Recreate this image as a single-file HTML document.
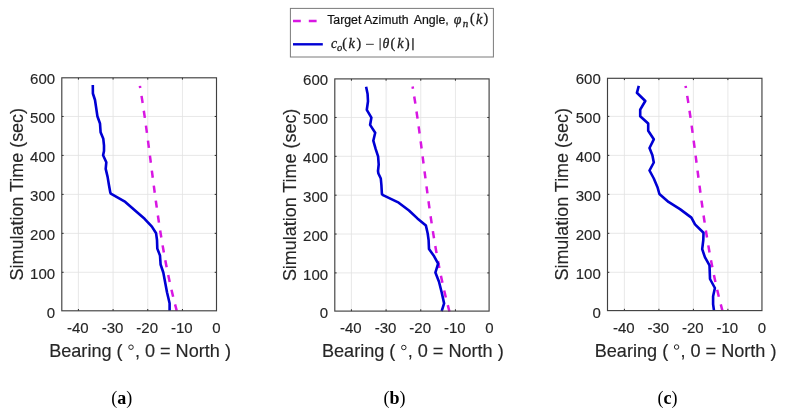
<!DOCTYPE html>
<html><head><meta charset="utf-8"><style>
html,body{margin:0;padding:0;background:#fff;}
body{width:785px;height:414px;overflow:hidden;}
svg{display:block;filter:blur(0.3px);}
.tk{font-family:"Liberation Sans",sans-serif;font-size:15px;fill:#262626;stroke:#262626;stroke-width:0.15px;}
.lb{font-family:"Liberation Sans",sans-serif;font-size:18.1px;fill:#262626;stroke:#262626;stroke-width:0.15px;}
.lg{font-family:"Liberation Sans",sans-serif;font-size:12.3px;fill:#111;stroke:#111;stroke-width:0.2px;}
.mi{font-family:"Liberation Serif",serif;font-style:italic;font-size:13px;fill:#1a1a1a;}
.mr{font-family:"Liberation Serif",serif;font-size:13px;fill:#1a1a1a;}
.cap{font-family:"Liberation Serif",serif;font-size:18px;fill:#000;}
</style></head><body>
<svg width="785" height="414" viewBox="0 0 785 414">
<rect width="785" height="414" fill="#fff"/>
<g stroke="#e2e2e2" stroke-width="0.8"><line x1="78.41" y1="77.80" x2="78.41" y2="310.80"/><line x1="113.08" y1="77.80" x2="113.08" y2="310.80"/><line x1="147.75" y1="77.80" x2="147.75" y2="310.80"/><line x1="182.43" y1="77.80" x2="182.43" y2="310.80"/><line x1="61.80" y1="272.31" x2="216.50" y2="272.31"/><line x1="61.80" y1="233.35" x2="216.50" y2="233.35"/><line x1="61.80" y1="194.38" x2="216.50" y2="194.38"/><line x1="61.80" y1="155.42" x2="216.50" y2="155.42"/><line x1="61.80" y1="116.46" x2="216.50" y2="116.46"/></g>
<polyline points="139.89,85.86 141.17,93.62 142.40,101.37 143.57,109.13 144.70,116.89 145.80,124.64 146.86,132.40 147.90,140.15 148.91,147.91 149.92,155.67 150.92,163.42 151.91,171.18 152.92,178.94 153.93,186.69 154.96,194.45 156.02,202.21 157.10,209.96 158.22,217.72 159.39,225.48 160.60,233.23 161.87,240.99 163.19,248.75 164.59,256.50 166.06,264.26 167.60,272.02 169.23,279.77 170.96,287.53 172.78,295.29 174.70,303.04 176.74,310.80" fill="none" stroke="#d816e2" stroke-width="2.5" stroke-dasharray="7.2 7.9" stroke-dashoffset="5.0"/>
<polyline points="92.80,85.10 92.90,93.50 95.00,100.00 95.90,106.00 97.40,116.20 100.00,123.50 100.60,132.20 103.30,138.80 104.00,145.50 104.00,151.00 103.10,155.20 106.30,162.30 105.70,168.90 107.60,176.90 108.90,184.80 110.30,192.50 110.80,193.60 125.30,201.90 136.20,211.50 144.60,218.80 151.90,226.60 156.10,233.30 157.00,240.00 157.30,248.60 160.00,255.50 160.60,264.50 163.30,272.50 167.00,292.30 169.60,303.30 169.60,310.80" fill="none" stroke="#0000d4" stroke-width="2.6" stroke-linejoin="round"/>
<g stroke="#262626" stroke-width="1"><line x1="78.41" y1="310.80" x2="78.41" y2="309.00"/><line x1="78.41" y1="77.80" x2="78.41" y2="79.60"/><line x1="113.08" y1="310.80" x2="113.08" y2="309.00"/><line x1="113.08" y1="77.80" x2="113.08" y2="79.60"/><line x1="147.75" y1="310.80" x2="147.75" y2="309.00"/><line x1="147.75" y1="77.80" x2="147.75" y2="79.60"/><line x1="182.43" y1="310.80" x2="182.43" y2="309.00"/><line x1="182.43" y1="77.80" x2="182.43" y2="79.60"/><line x1="61.80" y1="272.31" x2="63.60" y2="272.31"/><line x1="216.50" y1="272.31" x2="214.70" y2="272.31"/><line x1="61.80" y1="233.35" x2="63.60" y2="233.35"/><line x1="216.50" y1="233.35" x2="214.70" y2="233.35"/><line x1="61.80" y1="194.38" x2="63.60" y2="194.38"/><line x1="216.50" y1="194.38" x2="214.70" y2="194.38"/><line x1="61.80" y1="155.42" x2="63.60" y2="155.42"/><line x1="216.50" y1="155.42" x2="214.70" y2="155.42"/><line x1="61.80" y1="116.46" x2="63.60" y2="116.46"/><line x1="216.50" y1="116.46" x2="214.70" y2="116.46"/></g>
<rect x="61.80" y="77.80" width="154.70" height="233.00" fill="none" stroke="#404040" stroke-width="1.15"/>
<g class="tk"><text transform="translate(55.10,317.87)" text-anchor="end">0</text><text transform="translate(55.10,278.91)" text-anchor="end">100</text><text transform="translate(55.10,239.95)" text-anchor="end">200</text><text transform="translate(55.10,200.98)" text-anchor="end">300</text><text transform="translate(55.10,162.02)" text-anchor="end">400</text><text transform="translate(55.10,123.06)" text-anchor="end">500</text><text transform="translate(55.10,84.10)" text-anchor="end">600</text><text transform="translate(77.81,332.97)" text-anchor="middle">-40</text><text transform="translate(112.48,332.97)" text-anchor="middle">-30</text><text transform="translate(147.15,332.97)" text-anchor="middle">-20</text><text transform="translate(181.83,332.97)" text-anchor="middle">-10</text><text transform="translate(216.50,332.97)" text-anchor="middle">0</text></g>
<text class="lb" x="140.05" y="357.00" text-anchor="middle">Bearing ( <tspan style="fill:none;stroke:none">°</tspan>, 0 = North )</text>
<circle cx="131.00" cy="347.20" r="2.25" fill="none" stroke="#262626" stroke-width="1.0"/>
<text class="lb" transform="translate(22.60,194.20) rotate(-90)" text-anchor="middle" style="font-size:17.95px">Simulation Time (sec)</text>
<g stroke="#e2e2e2" stroke-width="0.8"><line x1="351.41" y1="78.90" x2="351.41" y2="311.10"/><line x1="386.08" y1="78.90" x2="386.08" y2="311.10"/><line x1="420.75" y1="78.90" x2="420.75" y2="311.10"/><line x1="455.43" y1="78.90" x2="455.43" y2="311.10"/><line x1="334.80" y1="272.90" x2="489.10" y2="272.90"/><line x1="334.80" y1="234.04" x2="489.10" y2="234.04"/><line x1="334.80" y1="195.18" x2="489.10" y2="195.18"/><line x1="334.80" y1="156.32" x2="489.10" y2="156.32"/><line x1="334.80" y1="117.46" x2="489.10" y2="117.46"/></g>
<polyline points="412.59,86.56 413.87,94.32 415.10,102.07 416.27,109.83 417.40,117.59 418.50,125.34 419.56,133.10 420.60,140.85 421.61,148.61 422.62,156.37 423.62,164.12 424.61,171.88 425.62,179.64 426.63,187.39 427.66,195.15 428.72,202.91 429.80,210.66 430.92,218.42 432.09,226.18 433.30,233.93 434.57,241.69 435.89,249.45 437.29,257.20 438.76,264.96 440.30,272.72 441.93,280.47 443.66,288.23 445.48,295.99 447.40,303.74 449.44,311.50" fill="none" stroke="#d816e2" stroke-width="2.5" stroke-dasharray="7.2 7.9" stroke-dashoffset="5.0"/>
<polyline points="366.10,86.80 367.60,94.10 368.00,101.30 366.80,109.80 371.40,117.60 370.10,124.90 375.20,132.70 373.30,140.70 375.70,149.20 378.10,156.40 378.70,164.50 378.00,171.00 378.40,173.50 380.80,178.50 381.40,185.00 381.90,194.00 383.00,195.20 398.70,202.70 409.00,210.50 417.40,218.40 425.90,225.60 427.70,233.50 428.60,240.00 429.00,249.10 433.60,255.40 438.10,263.60 435.40,272.60 439.00,281.70 441.70,292.50 444.10,303.40 441.70,311.10" fill="none" stroke="#0000d4" stroke-width="2.6" stroke-linejoin="round"/>
<g stroke="#262626" stroke-width="1"><line x1="351.41" y1="311.10" x2="351.41" y2="309.30"/><line x1="351.41" y1="78.90" x2="351.41" y2="80.70"/><line x1="386.08" y1="311.10" x2="386.08" y2="309.30"/><line x1="386.08" y1="78.90" x2="386.08" y2="80.70"/><line x1="420.75" y1="311.10" x2="420.75" y2="309.30"/><line x1="420.75" y1="78.90" x2="420.75" y2="80.70"/><line x1="455.43" y1="311.10" x2="455.43" y2="309.30"/><line x1="455.43" y1="78.90" x2="455.43" y2="80.70"/><line x1="334.80" y1="272.90" x2="336.60" y2="272.90"/><line x1="489.10" y1="272.90" x2="487.30" y2="272.90"/><line x1="334.80" y1="234.04" x2="336.60" y2="234.04"/><line x1="489.10" y1="234.04" x2="487.30" y2="234.04"/><line x1="334.80" y1="195.18" x2="336.60" y2="195.18"/><line x1="489.10" y1="195.18" x2="487.30" y2="195.18"/><line x1="334.80" y1="156.32" x2="336.60" y2="156.32"/><line x1="489.10" y1="156.32" x2="487.30" y2="156.32"/><line x1="334.80" y1="117.46" x2="336.60" y2="117.46"/><line x1="489.10" y1="117.46" x2="487.30" y2="117.46"/></g>
<rect x="334.80" y="78.90" width="154.30" height="232.20" fill="none" stroke="#404040" stroke-width="1.15"/>
<g class="tk"><text transform="translate(328.10,318.36)" text-anchor="end">0</text><text transform="translate(328.10,279.50)" text-anchor="end">100</text><text transform="translate(328.10,240.64)" text-anchor="end">200</text><text transform="translate(328.10,201.78)" text-anchor="end">300</text><text transform="translate(328.10,162.92)" text-anchor="end">400</text><text transform="translate(328.10,124.06)" text-anchor="end">500</text><text transform="translate(328.10,85.20)" text-anchor="end">600</text><text transform="translate(350.81,333.46)" text-anchor="middle">-40</text><text transform="translate(385.48,333.46)" text-anchor="middle">-30</text><text transform="translate(420.15,333.46)" text-anchor="middle">-20</text><text transform="translate(454.83,333.46)" text-anchor="middle">-10</text><text transform="translate(489.50,333.46)" text-anchor="middle">0</text></g>
<text class="lb" x="412.85" y="357.30" text-anchor="middle">Bearing ( <tspan style="fill:none;stroke:none">°</tspan>, 0 = North )</text>
<circle cx="403.80" cy="347.50" r="2.25" fill="none" stroke="#262626" stroke-width="1.0"/>
<text class="lb" transform="translate(295.60,194.90) rotate(-90)" text-anchor="middle" style="font-size:17.95px">Simulation Time (sec)</text>
<g stroke="#e2e2e2" stroke-width="0.8"><line x1="624.40" y1="78.30" x2="624.40" y2="310.60"/><line x1="658.90" y1="78.30" x2="658.90" y2="310.60"/><line x1="693.40" y1="78.30" x2="693.40" y2="310.60"/><line x1="727.90" y1="78.30" x2="727.90" y2="310.60"/><line x1="607.50" y1="272.30" x2="761.95" y2="272.30"/><line x1="607.50" y1="233.32" x2="761.95" y2="233.32"/><line x1="607.50" y1="194.34" x2="761.95" y2="194.34"/><line x1="607.50" y1="155.36" x2="761.95" y2="155.36"/><line x1="607.50" y1="116.38" x2="761.95" y2="116.38"/></g>
<polyline points="685.59,85.86 686.87,93.62 688.10,101.37 689.27,109.13 690.40,116.89 691.50,124.64 692.56,132.40 693.60,140.15 694.61,147.91 695.62,155.67 696.62,163.42 697.61,171.18 698.62,178.94 699.63,186.69 700.66,194.45 701.72,202.21 702.80,209.96 703.92,217.72 705.09,225.48 706.30,233.23 707.57,240.99 708.89,248.75 710.29,256.50 711.76,264.26 713.30,272.02 714.93,279.77 716.66,287.53 718.48,295.29 720.40,303.04 722.44,310.80" fill="none" stroke="#d816e2" stroke-width="2.5" stroke-dasharray="7.2 7.9" stroke-dashoffset="5.0"/>
<polyline points="638.80,85.80 636.90,92.80 645.30,101.00 640.20,109.70 640.20,116.20 648.20,123.50 648.20,130.70 653.80,139.30 649.50,148.00 652.40,155.30 653.80,162.50 649.50,170.50 653.80,178.50 657.50,187.20 659.40,194.00 668.50,201.90 680.00,209.10 691.40,217.60 695.00,224.40 703.50,232.70 703.30,240.00 702.20,249.10 704.90,257.20 709.50,265.40 710.00,279.00 714.90,288.00 713.10,296.20 713.10,304.30 714.00,310.60" fill="none" stroke="#0000d4" stroke-width="2.6" stroke-linejoin="round"/>
<g stroke="#262626" stroke-width="1"><line x1="624.40" y1="310.60" x2="624.40" y2="308.80"/><line x1="624.40" y1="78.30" x2="624.40" y2="80.10"/><line x1="658.90" y1="310.60" x2="658.90" y2="308.80"/><line x1="658.90" y1="78.30" x2="658.90" y2="80.10"/><line x1="693.40" y1="310.60" x2="693.40" y2="308.80"/><line x1="693.40" y1="78.30" x2="693.40" y2="80.10"/><line x1="727.90" y1="310.60" x2="727.90" y2="308.80"/><line x1="727.90" y1="78.30" x2="727.90" y2="80.10"/><line x1="607.50" y1="272.30" x2="609.30" y2="272.30"/><line x1="761.95" y1="272.30" x2="760.15" y2="272.30"/><line x1="607.50" y1="233.32" x2="609.30" y2="233.32"/><line x1="761.95" y1="233.32" x2="760.15" y2="233.32"/><line x1="607.50" y1="194.34" x2="609.30" y2="194.34"/><line x1="761.95" y1="194.34" x2="760.15" y2="194.34"/><line x1="607.50" y1="155.36" x2="609.30" y2="155.36"/><line x1="761.95" y1="155.36" x2="760.15" y2="155.36"/><line x1="607.50" y1="116.38" x2="609.30" y2="116.38"/><line x1="761.95" y1="116.38" x2="760.15" y2="116.38"/></g>
<rect x="607.50" y="78.30" width="154.45" height="232.30" fill="none" stroke="#404040" stroke-width="1.15"/>
<g class="tk"><text transform="translate(600.80,317.88)" text-anchor="end">0</text><text transform="translate(600.80,278.90)" text-anchor="end">100</text><text transform="translate(600.80,239.92)" text-anchor="end">200</text><text transform="translate(600.80,200.94)" text-anchor="end">300</text><text transform="translate(600.80,161.96)" text-anchor="end">400</text><text transform="translate(600.80,122.98)" text-anchor="end">500</text><text transform="translate(600.80,84.00)" text-anchor="end">600</text><text transform="translate(623.80,332.97)" text-anchor="middle">-40</text><text transform="translate(658.30,332.97)" text-anchor="middle">-30</text><text transform="translate(692.80,332.97)" text-anchor="middle">-20</text><text transform="translate(727.30,332.97)" text-anchor="middle">-10</text><text transform="translate(761.80,332.97)" text-anchor="middle">0</text></g>
<text class="lb" x="685.62" y="356.80" text-anchor="middle">Bearing ( <tspan style="fill:none;stroke:none">°</tspan>, 0 = North )</text>
<circle cx="676.58" cy="347.00" r="2.25" fill="none" stroke="#262626" stroke-width="1.0"/>
<text class="lb" transform="translate(568.30,194.35) rotate(-90)" text-anchor="middle" style="font-size:17.95px">Simulation Time (sec)</text>
<text class="cap" x="121.8" y="403.5" text-anchor="middle">(<tspan font-weight="bold">a</tspan>)</text>
<text class="cap" x="394.4" y="403.5" text-anchor="middle">(<tspan font-weight="bold">b</tspan>)</text>
<text class="cap" x="667.4" y="403.5" text-anchor="middle">(<tspan font-weight="bold">c</tspan>)</text>
<rect x="290.4" y="8.4" width="203" height="48.6" fill="#fff" stroke="#7a7a7a" stroke-width="1"/>
<line x1="293" y1="21.1" x2="322.8" y2="21.1" stroke="#d816e2" stroke-width="2.5" stroke-dasharray="7.8 8"/>
<line x1="293" y1="44.3" x2="322.8" y2="44.3" stroke="#0000d4" stroke-width="2.4"/>
<text class="lg" x="327.2" y="24">Target Azimuth</text>
<text class="lg" x="413.8" y="24">Angle,</text>
<text class="mi" x="453.70" y="23.5" style="font-size:13.8px" stroke="#1a1a1a" stroke-width="0.3">φ</text>
<text class="mi" x="462.80" y="26.6" style="font-size:11px" stroke="#1a1a1a" stroke-width="0.3">n</text>
<text class="mr" x="470.10" y="23.3" style="font-size:14px" stroke="#1a1a1a" stroke-width="0.3">(</text>
<text class="mi" x="475.90" y="23.5" style="font-size:14.2px" stroke="#1a1a1a" stroke-width="0.3">k</text>
<text class="mr" x="483.50" y="23.3" style="font-size:14px" stroke="#1a1a1a" stroke-width="0.3">)</text>
<text class="mi" x="331.00" y="48" style="font-size:13.8px" stroke="#1a1a1a" stroke-width="0.3">c</text>
<text class="mi" x="336.90" y="50.6" style="font-size:10.5px" stroke="#1a1a1a" stroke-width="0.3">o</text>
<text class="mr" x="342.20" y="47.8" style="font-size:14px" stroke="#1a1a1a" stroke-width="0.3">(</text>
<text class="mi" x="348.50" y="48" style="font-size:14.2px" stroke="#1a1a1a" stroke-width="0.3">k</text>
<text class="mr" x="356.40" y="47.8" style="font-size:14px" stroke="#1a1a1a" stroke-width="0.3">)</text>
<text class="mi" x="382.60" y="48" style="font-size:13.8px" stroke="#1a1a1a" stroke-width="0.3">θ</text>
<text class="mr" x="390.40" y="47.8" style="font-size:14px" stroke="#1a1a1a" stroke-width="0.3">(</text>
<text class="mi" x="397.20" y="48" style="font-size:14.2px" stroke="#1a1a1a" stroke-width="0.3">k</text>
<text class="mr" x="405.10" y="47.8" style="font-size:14px" stroke="#1a1a1a" stroke-width="0.3">)</text>
<rect x="366.0" y="43.85" width="7.8" height="0.85" fill="#1a1a1a"/>
<rect x="379.6" y="38.1" width="1.0" height="12.2" fill="#1a1a1a"/>
<rect x="412.3" y="38.1" width="1.3" height="12.2" fill="#1a1a1a"/>
</svg></body></html>
